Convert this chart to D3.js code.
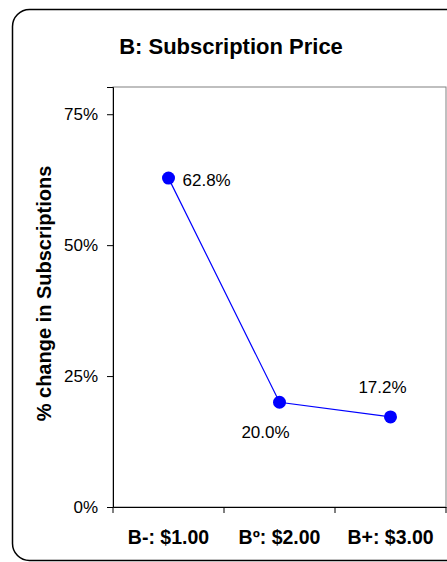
<!DOCTYPE html>
<html>
<head>
<meta charset="utf-8">
<script src="https://cdn.jsdelivr.net/npm/d3@7"></script>
<style>
  body { margin: 0; background: #fff; }
  text { font-family: "Liberation Sans", Arial, sans-serif; }
</style>
</head>
<body>
<svg id="chart"></svg>
<script>
  const categories = ["B-: $1.00", "Bº: $2.00", "B+: $3.00"];
  const values = [62.8, 20.0, 17.2];
  const yTicks = [0, 25, 50, 75];

  const width = 447, height = 562;
  const plot = { left: 113, right: 446, top: 87, bottom: 507 };

  const svg = d3.select("#chart").attr("width", width).attr("height", height);

  // outer rounded frame
  svg.append("rect")
    .attr("x", 12.5).attr("y", 9.5)
    .attr("width", 450).attr("height", 551)
    .attr("rx", 17).attr("ry", 17)
    .attr("fill", "none").attr("stroke", "#000").attr("stroke-width", 1.5);

  svg.append("text")
    .attr("x", 231).attr("y", 54)
    .attr("text-anchor", "middle")
    .attr("font-weight", "bold").attr("font-size", 22)
    .text("B: Subscription Price");

  const x = d3.scaleBand().domain(categories).range([plot.left, plot.right]);
  const y = d3.scaleLinear().domain([0, 80.2]).range([plot.bottom, plot.top]);

  // plot area border (top/right gray)
  svg.append("rect")
    .attr("x", plot.left).attr("y", plot.top)
    .attr("width", plot.right - plot.left).attr("height", plot.bottom - plot.top)
    .attr("fill", "none").attr("stroke", "#808080").attr("stroke-width", 1);

  const yAxis = svg.append("g")
    .attr("transform", `translate(${plot.left},0)`)
    .call(d3.axisLeft(y).tickValues(yTicks).tickFormat(d => d + "%").tickSize(6).tickPadding(9));
  yAxis.select(".domain").attr("stroke", "#000");
  yAxis.selectAll("text").attr("font-size", 17).attr("font-family", "Liberation Sans, Arial, sans-serif").attr("fill", "#000");

  const xAxis = svg.append("g")
    .attr("transform", `translate(0,${plot.bottom})`)
    .call(d3.axisBottom(x).tickSize(0).tickPadding(23));
  xAxis.select(".domain").attr("stroke", "#000");
  xAxis.selectAll("text")
    .attr("font-size", 19.5).attr("font-weight", "bold")
    .attr("font-family", "Liberation Sans, Arial, sans-serif").attr("fill", "#000");

  // category boundary ticks
  const bounds = categories.map(c => x(c)).concat([plot.right]);
  svg.append("g").selectAll("line")
    .data(bounds)
    .join("line")
    .attr("x1", d => d).attr("x2", d => d)
    .attr("y1", plot.bottom).attr("y2", plot.bottom + 6)
    .attr("stroke", "#000");

  svg.append("text")
    .attr("transform", "translate(51," + (y(40) - 4) + ") rotate(-90)")
    .attr("text-anchor", "middle")
    .attr("font-weight", "bold").attr("font-size", 20)
    .text("% change in Subscriptions");

  const cx = (d, i) => x(categories[i]) + x.bandwidth() / 2;

  const line = d3.line()
    .x((d, i) => cx(d, i))
    .y(d => y(d));

  svg.append("path")
    .datum(values)
    .attr("d", line)
    .attr("fill", "none").attr("stroke", "#0000ff").attr("stroke-width", 1.2);

  svg.append("g").selectAll("circle")
    .data(values)
    .join("circle")
    .attr("cx", cx)
    .attr("cy", d => y(d))
    .attr("r", 6.5)
    .attr("fill", "#0000ff");

  const labelPos = [
    { dx: 14, dy: 8, anchor: "start" },
    { dx: -14, dy: 36, anchor: "middle" },
    { dx: -8, dy: -24, anchor: "middle" }
  ];
  svg.append("g").selectAll("text")
    .data(values)
    .join("text")
    .attr("x", (d, i) => cx(d, i) + labelPos[i].dx)
    .attr("y", (d, i) => y(d) + labelPos[i].dy)
    .attr("text-anchor", (d, i) => labelPos[i].anchor)
    .attr("font-size", 17)
    .text(d => d.toFixed(1) + "%");
</script>
</body>
</html>
